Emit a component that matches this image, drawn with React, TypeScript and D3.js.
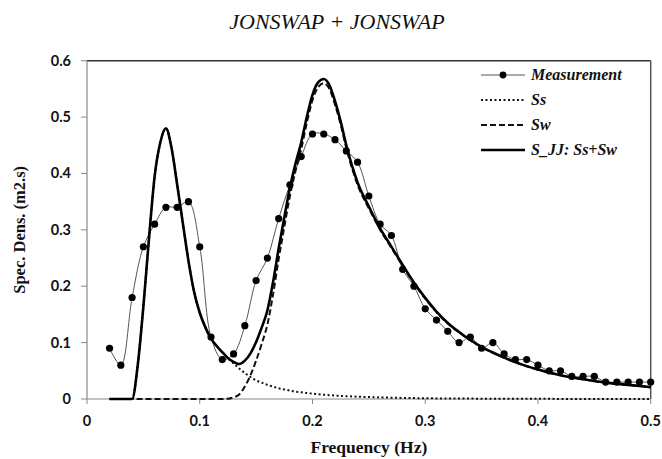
import React from "react";
import * as d3 from "d3";

const modelFreq = [
  0.02, 0.025, 0.03, 0.035, 0.04, 0.045, 0.05, 0.055, 0.06, 0.065, 0.07, 0.075, 0.08, 0.085, 0.09, 0.095,
  0.1, 0.105, 0.11, 0.115, 0.12, 0.125, 0.13, 0.135, 0.14, 0.145, 0.15, 0.155, 0.16, 0.165, 0.17, 0.175,
  0.18, 0.185, 0.19, 0.195, 0.2, 0.205, 0.21, 0.215, 0.22, 0.225, 0.23, 0.235, 0.24, 0.25, 0.26, 0.27,
  0.28, 0.29, 0.3, 0.31, 0.32, 0.33, 0.34, 0.35, 0.36, 0.37, 0.38, 0.39, 0.4, 0.42, 0.44, 0.46, 0.48, 0.5,
];

const ssValues = [
  0, 0, 0, 0, 0, 0.06, 0.164, 0.285, 0.395, 0.455, 0.48, 0.445, 0.38, 0.312, 0.245, 0.19,
  0.153, 0.127, 0.107, 0.094, 0.083, 0.072, 0.063, 0.054, 0.046, 0.039, 0.033, 0.029, 0.025, 0.022, 0.019, 0.017,
  0.015, 0.013, 0.012, 0.0105, 0.0095, 0.0085, 0.0076, 0.0068, 0.0061, 0.0055, 0.005, 0.0045, 0.004, 0.0034, 0.0028, 0.0023,
  0.0019, 0.0016, 0.0013, 0.0011, 0.0009, 0.0008, 0.0007, 0.0006, 0.0005, 0.0004, 0.0004, 0.0003, 0.0003, 0.0002, 0.0002, 0.0001, 0.0001, 0.0001,
];

const swValues = [
  0, 0, 0, 0, 0, 0, 0, 0, 0, 0, 0, 0, 0, 0, 0, 0,
  0, 0, 0, 0, 0, 0.0005, 0.003, 0.008, 0.022, 0.042, 0.068, 0.098, 0.132, 0.185, 0.248, 0.305,
  0.36, 0.405, 0.443, 0.49, 0.53, 0.553, 0.56, 0.55, 0.522, 0.487, 0.445, 0.41, 0.38, 0.338, 0.3, 0.268,
  0.236, 0.205, 0.178, 0.154, 0.134, 0.118, 0.104, 0.092, 0.082, 0.073, 0.065, 0.058, 0.052, 0.042, 0.035, 0.029, 0.025, 0.021,
];

const sjjValues = [
  0, 0, 0, 0, 0, 0.06, 0.164, 0.285, 0.395, 0.455, 0.48, 0.445, 0.38, 0.312, 0.245, 0.19,
  0.153, 0.127, 0.107, 0.094, 0.083, 0.0725, 0.066, 0.062, 0.068, 0.081, 0.101, 0.127, 0.157, 0.207, 0.267, 0.322,
  0.375, 0.418, 0.455, 0.5005, 0.5395, 0.5615, 0.5676, 0.5568, 0.5281, 0.4925, 0.45, 0.4145, 0.384, 0.3414, 0.3028, 0.2703,
  0.2379, 0.2066, 0.1793, 0.1551, 0.1349, 0.1188, 0.1047, 0.0926, 0.0825, 0.0734, 0.0654, 0.0583, 0.0523, 0.0422, 0.0352, 0.0291, 0.0251, 0.0211,
];

const measFreq = [
  0.02, 0.03, 0.04, 0.05, 0.06, 0.07, 0.08, 0.09, 0.1, 0.11, 0.12, 0.13, 0.14, 0.15, 0.16, 0.17, 0.18,
  0.19, 0.2, 0.21, 0.22, 0.23, 0.24, 0.25, 0.26, 0.27, 0.28, 0.29, 0.3, 0.31, 0.32, 0.33, 0.34, 0.35,
  0.36, 0.37, 0.38, 0.39, 0.4, 0.41, 0.42, 0.43, 0.44, 0.45, 0.46, 0.47, 0.48, 0.49, 0.5,
];

const measValues = [
  0.09, 0.06, 0.18, 0.27, 0.31, 0.34, 0.34, 0.35, 0.27, 0.11, 0.07, 0.08, 0.13, 0.21, 0.25, 0.32, 0.38,
  0.43, 0.47, 0.47, 0.46, 0.44, 0.42, 0.36, 0.31, 0.29, 0.23, 0.2, 0.16, 0.14, 0.12, 0.1, 0.11, 0.09,
  0.1, 0.08, 0.07, 0.07, 0.06, 0.05, 0.05, 0.04, 0.04, 0.04, 0.03, 0.03, 0.03, 0.03, 0.03,
];

const xTicks = [0, 0.1, 0.2, 0.3, 0.4, 0.5];
const yTicks = [0, 0.1, 0.2, 0.3, 0.4, 0.5, 0.6];
const legendLabels = ["Measurement", "Ss", "Sw", "S_JJ: Ss+Sw"];

const W = 662;
const H = 459;
const M = { left: 87, right: 11.3, top: 60.7, bottom: 60 };

export default function App() {
  const x = d3.scaleLinear().domain([0, 0.5]).range([M.left, W - M.right]);
  const y = d3.scaleLinear().domain([0, 0.6]).range([H - M.bottom, M.top]);

  const model = d3
    .line<number>()
    .x((_, i) => x(modelFreq[i]))
    .y((d) => y(d))
    .curve(d3.curveMonotoneX);

  const meas = d3
    .line<number>()
    .x((_, i) => x(measFreq[i]))
    .y((d) => y(d))
    .curve(d3.curveCatmullRom.alpha(0.5));

  const x0 = x(0);
  const x1 = x(0.5);
  const y0 = y(0);
  const y1 = y(0.6);

  const serif = "'Liberation Serif', 'Times New Roman', serif";
  const sans = "Lato, 'Open Sans', sans-serif";

  const legX0 = 481;
  const legX1 = 525;
  const legY = [75, 100, 125, 150];

  return (
    <svg width={W} height={H} style={{ position: "absolute", left: 0, top: 0, background: "#fff" }}>
      <rect x={0} y={0} width={W} height={H} fill="#fff" />
      <text x={337} y={29} textAnchor="middle" fontFamily={serif} fontStyle="italic" fontSize={22} fill="#111">
        JONSWAP + JONSWAP
      </text>

      {/* frame */}
      <line x1={x0} x2={x1} y1={y1} y2={y1} stroke="#333" strokeWidth={1.5} />
      <line x1={x1} x2={x1} y1={y1} y2={y0} stroke="#555" strokeWidth={1.5} />
      <line x1={x0} x2={x0} y1={y1} y2={y0} stroke="#888" strokeWidth={1.2} />
      <line x1={x0} x2={x1} y1={y0} y2={y0} stroke="#888" strokeWidth={1.2} />

      {yTicks.map((t) => (
        <g key={"y" + t}>
          <line x1={x0 - 6} x2={x0} y1={y(t)} y2={y(t)} stroke="#888" strokeWidth={1} />
          <text x={x0 - 16} y={y(t) + 5} textAnchor="end" fontFamily={sans} fontWeight={700} fontSize={14.5} fill="#111">
            {t === 0 ? "0" : t.toFixed(1)}
          </text>
        </g>
      ))}
      {xTicks.map((t) => (
        <g key={"x" + t}>
          <line x1={x(t)} x2={x(t)} y1={y0} y2={y0 + 5} stroke="#888" strokeWidth={1} />
          <text x={x(t)} y={y0 + 27} textAnchor="middle" fontFamily={sans} fontWeight={700} fontSize={14.5} fill="#111">
            {t === 0 ? "0" : t.toFixed(1)}
          </text>
        </g>
      ))}

      <text
        transform={`translate(25, ${(y0 + y1) / 2}) rotate(-90)`}
        textAnchor="middle"
        fontFamily={serif}
        fontWeight={700}
        fontSize={16.5}
        fill="#111"
      >
        Spec. Dens. (m2.s)
      </text>
      <text x={(x0 + x1) / 2} y={453} textAnchor="middle" fontFamily={serif} fontWeight={700} fontSize={17.5} fill="#111">
        Frequency (Hz)
      </text>

      {/* measurement line */}
      <path d={meas(measValues) || ""} fill="none" stroke="#555" strokeWidth={1} />

      {/* models */}
      <path d={model(ssValues) || ""} fill="none" stroke="#111" strokeWidth={2} strokeDasharray="2,2.5" />
      <path d={model(swValues) || ""} fill="none" stroke="#111" strokeWidth={2} strokeDasharray="6,3" />
      <path d={model(sjjValues) || ""} fill="none" stroke="#000" strokeWidth={2.6} />

      {measValues.map((v, i) => (
        <circle key={"m" + i} cx={x(measFreq[i])} cy={y(v)} r={3.6} fill="#000" />
      ))}

      {/* legend */}
      <line x1={legX0} x2={legX1} y1={legY[0]} y2={legY[0]} stroke="#555" strokeWidth={1} />
      <circle cx={(legX0 + legX1) / 2} cy={legY[0]} r={3.4} fill="#000" />
      <line x1={legX0} x2={legX1} y1={legY[1]} y2={legY[1]} stroke="#111" strokeWidth={2} strokeDasharray="2,2.5" />
      <line x1={legX0} x2={legX1} y1={legY[2]} y2={legY[2]} stroke="#111" strokeWidth={2} strokeDasharray="6,3" />
      <line x1={legX0} x2={legX1} y1={legY[3]} y2={legY[3]} stroke="#000" strokeWidth={2.6} />
      {legendLabels.map((l, i) => (
        <text
          key={l}
          x={531}
          y={legY[i] + 5}
          fontFamily={serif}
          fontWeight={700}
          fontStyle="italic"
          fontSize={16}
          fill="#111"
        >
          {l}
        </text>
      ))}
    </svg>
  );
}
